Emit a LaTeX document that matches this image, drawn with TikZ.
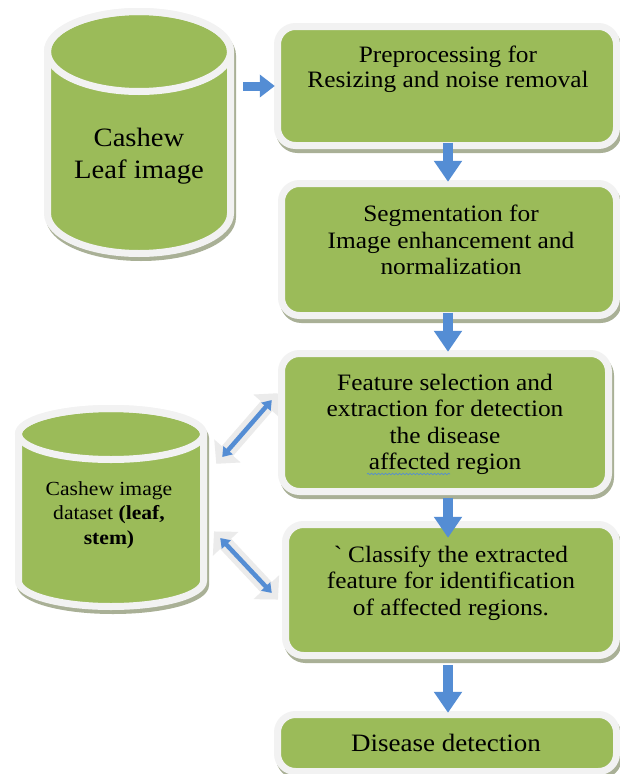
\documentclass[tikz,border=0pt]{standalone}
\usepackage{fontspec}
\setmainfont{Liberation Serif}[FakeStretch=1.08]
\usetikzlibrary{arrows.meta,decorations.pathmorphing,calc}
\definecolor{leafgreen}{HTML}{9BBB59}
\definecolor{rimwhite}{HTML}{F2F2F2}
\definecolor{shadowgrey}{HTML}{A9B096}
\definecolor{arrowblue}{HTML}{548DD4}
\definecolor{halogrey}{HTML}{EBEBEB}
\newcommand\drumpath[5]{({#1-#4},#2) -- ({#1-#4},#3) arc[start angle=180,end angle=0,x radius=#4,y radius=#5] -- ({#1+#4},#2) arc[start angle=0,end angle=-180,x radius=#4,y radius=#5] -- cycle}
\tikzset{
  flowbox/.style={rectangle, rounded corners=18pt, fill=leafgreen, draw=rimwhite, line width=7pt, inner sep=0pt,
    preaction={draw=shadowgrey, line width=7pt, transform canvas={shift={(2pt,-4pt)}}}},
  drumbody/.style={fill=leafgreen, draw=rimwhite, line width=7pt,
    preaction={draw=shadowgrey, line width=7pt, transform canvas={shift={(2pt,-4pt)}}}},
  drumrim/.style={draw=rimwhite, line width=7pt},
  frame/.style={rectangle, draw=none, inner sep=0pt},
  boxtext/.style={align=center, inner sep=0pt, font=\fontsize{23.5}{26.5}\selectfont},
  blockdown/.style={draw=arrowblue, line width=10pt, -{Triangle[width=27pt,length=21pt]}},
  blockright/.style={draw=arrowblue, line width=9pt, -{Triangle[width=22pt,length=15pt]}},
  halo/.style={draw=halogrey, line width=15pt, {Triangle[width=34pt,length=17pt]}-{Triangle[width=34pt,length=17pt]}, shorten <=-9pt, shorten >=-9pt},
  thinlink/.style={draw=arrowblue, line width=4.5pt, {Triangle[width=12pt,length=9pt]}-{Triangle[width=12pt,length=9pt]}}
}
\begin{document}
\begin{tikzpicture}[x=1pt,y=-1pt]
\useasboundingbox[fill=white] (0,0) rectangle (620,774);
\coordinate (ax) at (448,0);
% named frames for the cylinders
\node[frame, minimum width=183pt, minimum height=242pt] (c1) at (139,132.5) {};
\node[frame, minimum width=185pt, minimum height=198pt] (c2) at (111,507.5) {};
% boxes (positions only; drawn below)
\path
  node[frame, minimum width=339pt, minimum height=119pt] (b1) at (447,86) {}
  node[frame, minimum width=335pt, minimum height=132pt] (b2) at (449,249.5) {}
  node[frame, minimum width=327pt, minimum height=138pt] (b3) at (445,422.5) {}
  node[frame, minimum width=331pt, minimum height=131pt] (b4) at (451,590) {}
  node[frame, minimum width=339pt, minimum height=57pt] (b5) at (447,743) {};
% halos of the double links (behind shapes)
\draw[halo] ([shift={(18.5,-50.5)}]c2.east) -- ([shift={(-9.5,-22.5)}]b3.west);
\draw[halo] ([shift={(16.5,30.5)}]c2.east) -- ([shift={(-13.5,3)}]b4.west);
% cylinders
\path[drumbody] \drumpath{139}{51.5}{213.5}{91.5}{40};
\draw[drumrim] (139,51.5) ellipse[x radius=91.5, y radius=40];
\path[drumbody] \drumpath{111}{434}{581}{92.5}{25.5};
\draw[drumrim] (111,434) ellipse[x radius=92.5, y radius=25.5];
% boxes
\node[flowbox, minimum width=339pt, minimum height=119pt] at (b1) {};
\node[flowbox, minimum width=335pt, minimum height=132pt] at (b2) {};
\node[flowbox, minimum width=327pt, minimum height=138pt] at (b3) {};
\node[flowbox, minimum width=331pt, minimum height=131pt] at (b4) {};
\node[flowbox, minimum width=339pt, minimum height=57pt] at (b5) {};
% texts
\node[align=center, inner sep=0pt, font=\fontsize{26.5}{32}\selectfont] (c1t) at (139,156) {Cashew\\Leaf image};
\node[align=center, inner sep=0pt, font=\fontsize{20}{24.5}\selectfont] (c2t) at (109,515) {Cashew image\\dataset \textbf{(leaf,}\\\textbf{stem)}};
\node[boxtext, font=\fontsize{23.5}{25}\selectfont] (t1) at (448,69.5) {Preprocessing for\\Resizing and noise removal};
\node[boxtext] (t2) at (451,240) {Segmentation for\\Image enhancement and\\normalization};
\node[boxtext] (t3) at (445,424.5) {Feature selection and\\extraction for detection\\the disease\\affected region};
\node[boxtext] (t4) at (451,583) {\textasciigrave{} Classify the extracted\\feature for identification\\of affected regions.};
\node[boxtext, font=\fontsize{25}{28}\selectfont] (t5) at (446,743) {Disease detection};
\draw[arrowblue, line width=0.7pt, decorate, decoration={snake, amplitude=0.7pt, segment length=3.5pt}] (367,474) -- (450,474);
% flow arrows
\draw[blockright, shorten <=12.5pt, shorten >=2.5pt] (c1.east |- b1.west) -- (b1.west);
\draw[blockdown, shorten <=-3pt, shorten >=1.5pt] (b1.south -| ax) -- (b2.north -| ax);
\draw[blockdown, shorten <=-3pt, shorten >=1.5pt] (b2.south -| ax) -- (b3.north -| ax);
\draw[blockdown, shorten <=6pt, shorten >=-13.5pt] (b3.south -| ax) -- (b4.north -| ax);
\draw[blockdown, shorten <=9.5pt, shorten >=1.5pt] (b4.south -| ax) -- (b5.north -| ax);
% double links
\draw[thinlink] ([shift={(18.5,-50.5)}]c2.east) -- ([shift={(-9.5,-22.5)}]b3.west);
\draw[thinlink] ([shift={(16.5,30.5)}]c2.east) -- ([shift={(-13.5,3)}]b4.west);
\end{tikzpicture}
\end{document}
